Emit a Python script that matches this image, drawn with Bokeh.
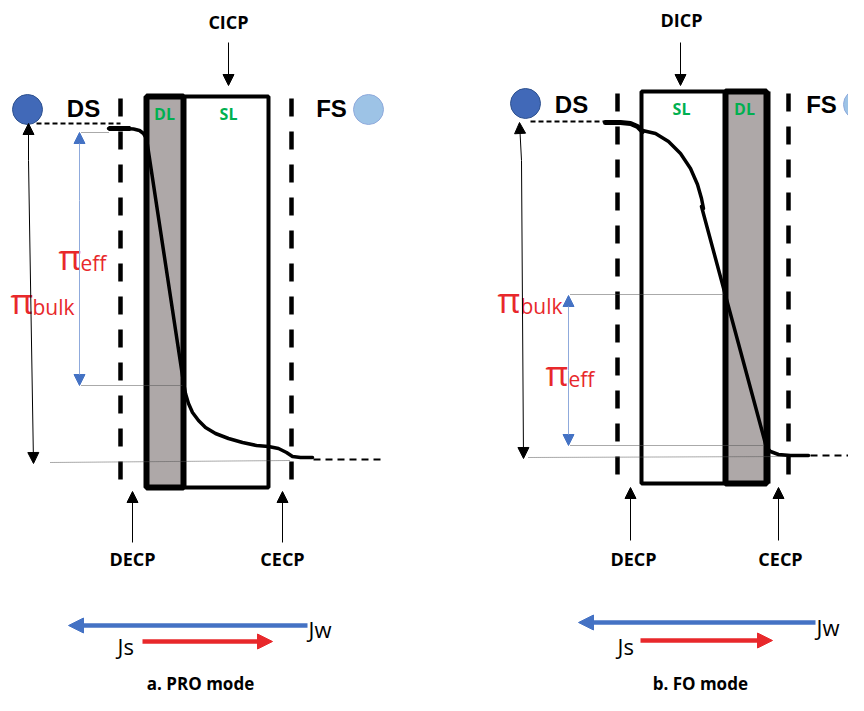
from bokeh.plotting import figure
from bokeh.models import Range1d, Arrow, NormalHead
from bokeh.core.properties import value
from bokeh.embed import file_html
from bokeh.resources import INLINE

FONT = value("Open Sans")
ARIAL = value("Liberation Sans")
BLUE = "#4472C4"
LBLUE = "#9DC3E6"
RED = "#E8282B"
GREEN = "#00B050"
GRAY = "#AEA8A8"

# ---- panel a (PRO mode) geometry ----
a_dl = [146, 183]          # draw layer (gray) x extent
a_sl = [183, 268]          # support layer x extent
a_box_y = [96, 487]
a_dash_x = [120, 291]
a_dash_y = [98, 490]
a_prof_x = [108, 125, 133, 139, 143, 146, 183, 185, 188, 192, 198, 205, 215, 228, 242, 256, 268, 278, 286, 292, 300, 312]
a_prof_y = [128, 128, 128.5, 130, 133, 138, 382, 393, 403, 412, 420, 427, 433, 438, 442, 445, 446, 448, 452, 456, 457, 457]

# ---- panel b (FO mode) geometry ----
b_sl = [641, 725]
b_dl = [725, 766]
b_box_y = [91, 483]
b_dash_x = [617, 788]
b_dash_y = [93, 486]
b_in_x = [605, 620, 630, 637, 642]
b_in_y = [122, 122, 123, 126, 131]
b_arc_x = [642, 655, 668, 680, 690, 697, 701, 703]
b_arc_y = [130, 133, 141, 153, 168, 184, 198, 208]
b_prof_x = [701, 766, 770, 778, 790, 808]
b_prof_y = [206, 447, 451, 454, 455, 455]

p = figure(width=848, height=695, x_range=Range1d(0, 848), y_range=Range1d(695, 0),
           output_backend="svg", toolbar_location=None, min_border=0)
p.axis.visible = False
p.grid.visible = False
p.outline_line_color = None
p.background_fill_color = "white"


def txt(x, y, t, size, color="black", bold=True, align="center", baseline="middle", font=FONT):
    p.text(x=[x], y=[y], text=[t], text_font=font, text_font_size=size,
           text_font_style="bold" if bold else "normal", text_color=color,
           text_align=align, text_baseline=baseline)


def arrow(x0, y0, x1, y1, color="black", width=1.0, size=11, head_color=None):
    hc = head_color or color
    p.add_layout(Arrow(end=NormalHead(size=size, fill_color=hc, line_color=hc, line_width=1),
                       x_start=x0, y_start=y0, x_end=x1, y_end=y1,
                       line_color=color, line_width=width))


# ================= PANEL A =================
for xd in a_dash_x:
    p.line([xd, xd], a_dash_y, line_color="black", line_width=4.5, line_dash="18 15")
p.quad(left=a_dl[0], right=a_dl[1], top=a_box_y[0], bottom=a_box_y[1],
       fill_color=GRAY, line_color=None)
p.quad(left=a_sl[0], right=a_sl[1], top=a_box_y[0], bottom=a_box_y[1],
       fill_color=None, line_color="black", line_width=4)
p.quad(left=a_dl[0], right=a_dl[1], top=a_box_y[0], bottom=a_box_y[1],
       fill_color=None, line_color="black", line_width=6)
txt(164, 113, "DL", "16px", GREEN)
txt(228, 113, "SL", "16px", GREEN)

p.line([36, 120], [123, 123], line_color="black", line_width=1.8, line_dash="5 3")
p.line([81, 108], [132, 132], line_color="#555555", line_width=1, line_dash="1 1")
p.line([81, 183], [385, 385], line_color="#555555", line_width=1, line_dash="1 1")
p.line([50, 290], [462, 460], line_color="#555555", line_width=1, line_dash="1 1")
p.line([313, 382], [459, 459], line_color="black", line_width=1.8, line_dash="7 5")

p.line(a_prof_x, a_prof_y, line_color="black", line_width=3.5, line_join="round", line_cap="round")
p.line([108, 130], [128, 128], line_color="black", line_width=5)

p.circle(x=[27], y=[109], radius=15, fill_color="#4169B8", line_color="#2F528F", line_width=1)
p.circle(x=[368], y=[109], radius=15, fill_color=LBLUE, line_color="#8FAADC", line_width=1)
txt(83, 108, "DS", "24px", font=ARIAL)
txt(331, 108, "FS", "24px", font=ARIAL)

arrow(28, 160, 28, 123, size=11)
arrow(28, 160, 33, 463, size=11)
arrow(79, 200, 79, 132, color="#8FAADC", head_color=BLUE, size=11)
arrow(79, 200, 79, 385, color="#8FAADC", head_color=BLUE, size=11)
txt(58, 256, "π", "35px", RED, bold=False, align="left", baseline="alphabetic")
txt(80, 262, "eff", "21px", RED, bold=False, align="left", baseline="alphabetic")
txt(10, 300, "π", "35px", RED, bold=False, align="left", baseline="alphabetic")
txt(32, 306, "bulk", "21px", RED, bold=False, align="left", baseline="alphabetic")

txt(228, 21, "CICP", "18px")
arrow(228, 42, 228, 85, size=11)
arrow(132, 542, 132, 491, size=11)
txt(132, 558, "DECP", "18px")
arrow(282, 542, 282, 491, size=11)
txt(282, 558, "CECP", "18px")

arrow(307, 625, 68, 625, color=BLUE, width=4.5, size=15)
txt(308, 628, "Jw", "22px", bold=False, align="left")
arrow(142, 641, 272, 641, color=RED, width=4.5, size=15)
txt(117, 645, "Js", "22px", bold=False, align="left")
txt(200, 683, "a. PRO mode", "17px")

# ================= PANEL B =================
for xd in b_dash_x:
    p.line([xd, xd], b_dash_y, line_color="black", line_width=4.5, line_dash="18 15")
p.quad(left=b_dl[0], right=b_dl[1], top=b_box_y[0], bottom=b_box_y[1],
       fill_color=GRAY, line_color=None)
p.quad(left=b_sl[0], right=b_sl[1], top=b_box_y[0], bottom=b_box_y[1],
       fill_color=None, line_color="black", line_width=4)
p.quad(left=b_dl[0], right=b_dl[1], top=b_box_y[0], bottom=b_box_y[1],
       fill_color=None, line_color="black", line_width=6)
p.line([b_dl[1] + 2, b_dl[1] + 2], b_box_y, line_color="black", line_width=4)
txt(681, 108, "SL", "16px", GREEN)
txt(744, 108, "DL", "16px", GREEN)

p.line([530, 605], [121, 121], line_color="black", line_width=1.8, line_dash="5 3")
p.line([570, 723], [294, 294], line_color="#555555", line_width=1, line_dash="1 1")
p.line([570, 766], [445, 445], line_color="#555555", line_width=1, line_dash="1 1")
p.line([528, 790], [457, 456], line_color="#555555", line_width=1, line_dash="1 1")
p.line([810, 848], [455, 455], line_color="black", line_width=1.8, line_dash="7 5")

p.line(b_in_x, b_in_y, line_color="black", line_width=5, line_cap="round")
p.line(b_arc_x, b_arc_y, line_color="black", line_width=3.5, line_join="round", line_cap="round")
p.line(b_prof_x, b_prof_y, line_color="black", line_width=3.5, line_join="round", line_cap="round")

p.circle(x=[525], y=[103], radius=15, fill_color="#4169B8", line_color="#2F528F", line_width=1)
p.circle(x=[858], y=[104], radius=15, fill_color=LBLUE, line_color="#8FAADC", line_width=1)
txt(571, 104, "DS", "24px", font=ARIAL)
txt(821, 104, "FS", "24px", font=ARIAL)

arrow(521, 160, 519, 122, size=11)
arrow(521, 160, 523, 458, size=11)
arrow(568, 370, 568, 295, color="#8FAADC", head_color=BLUE, size=11)
arrow(568, 370, 568, 445, color="#8FAADC", head_color=BLUE, size=11)
txt(497, 299, "π", "35px", RED, bold=False, align="left", baseline="alphabetic")
txt(520, 305, "bulk", "21px", RED, bold=False, align="left", baseline="alphabetic")
txt(545, 372, "π", "35px", RED, bold=False, align="left", baseline="alphabetic")
txt(568, 378, "eff", "21px", RED, bold=False, align="left", baseline="alphabetic")

txt(681, 19, "DICP", "18px")
arrow(680, 42, 680, 85, size=11)
arrow(630, 540, 630, 487, size=11)
txt(633, 558, "DECP", "18px")
arrow(778, 540, 778, 487, size=11)
txt(780, 558, "CECP", "18px")

arrow(815, 622, 578, 622, color=BLUE, width=4.5, size=15)
txt(816, 626, "Jw", "22px", bold=False, align="left")
arrow(640, 640, 772, 640, color=RED, width=4.5, size=15)
txt(617, 645, "Js", "22px", bold=False, align="left")
txt(702, 683, "b.  FO mode", "17px")

open("out.html", "w").write(file_html(p, INLINE))
